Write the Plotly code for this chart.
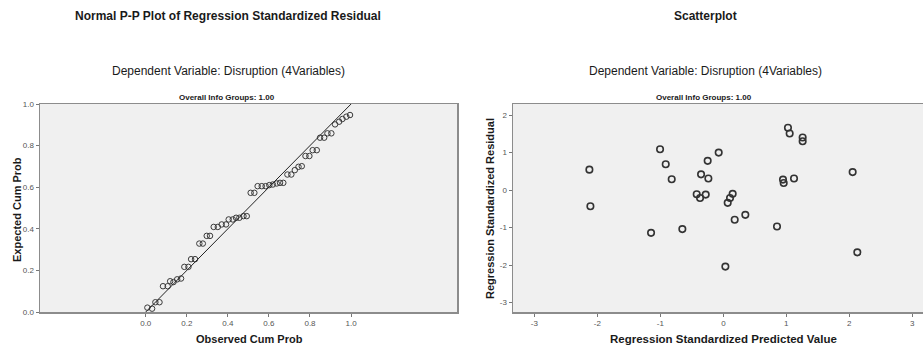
import plotly.graph_objects as go

W, H = 923, 347

# ---- Data: Normal P-P plot ----
pp_observed = [0.008, 0.031, 0.047, 0.067, 0.084, 0.107, 0.119, 0.135, 0.153, 0.172,
               0.188, 0.208, 0.221, 0.240, 0.261, 0.278, 0.297, 0.313, 0.331, 0.351,
               0.370, 0.391, 0.404, 0.424, 0.440, 0.456, 0.476, 0.492, 0.511, 0.529,
               0.545, 0.565, 0.584, 0.602, 0.619, 0.638, 0.654, 0.670, 0.690, 0.709,
               0.726, 0.744, 0.760, 0.778, 0.797, 0.813, 0.833, 0.849, 0.869, 0.885,
               0.904, 0.922, 0.942, 0.958, 0.977, 0.995]
pp_expected = [0.021, 0.016, 0.047, 0.047, 0.124, 0.124, 0.148, 0.144, 0.157, 0.161,
               0.217, 0.217, 0.254, 0.254, 0.329, 0.329, 0.366, 0.366, 0.409, 0.409,
               0.421, 0.421, 0.445, 0.445, 0.453, 0.453, 0.461, 0.461, 0.573, 0.573,
               0.605, 0.605, 0.605, 0.610, 0.613, 0.618, 0.621, 0.621, 0.661, 0.661,
               0.682, 0.698, 0.701, 0.750, 0.750, 0.778, 0.778, 0.838, 0.838, 0.859,
               0.859, 0.902, 0.915, 0.928, 0.939, 0.947]
ref_line = [0.0, 1.0]
pp_ticks = [0.0, 0.2, 0.4, 0.6, 0.8, 1.0]

# ---- Data: Scatterplot ----
pred_value = [-2.127, -2.111, -1.148, -1.005, -0.915, -0.820, -0.651, -0.423, -0.370, -0.354,
              -0.280, -0.249, -0.238, -0.074, 0.032, 0.069, 0.106, 0.148, 0.180, 0.349,
              0.852, 0.947, 0.958, 1.026, 1.053, 1.122, 1.259, 1.259, 2.053, 2.127]
std_resid = [0.545, -0.43, -1.14, 1.09, 0.69, 0.29, -1.04, -0.11, -0.21, 0.42,
             -0.12, 0.78, 0.31, 1.00, -2.04, -0.34, -0.21, -0.10, -0.79, -0.66,
             -0.97, 0.28, 0.19, 1.66, 1.51, 0.31, 1.40, 1.30, 0.48, -1.66]
sc_xticks = [-3, -2, -1, 0, 1, 2, 3]
sc_yticks = [-3, -2, -1, 0, 1, 2]

FONT = "Liberation Sans, Arial, sans-serif"
BG = "#f0f0f0"
FRAME = "#8c8c8c"


def px(x):
    return x / W


def py(y):
    return 1 - y / H


fig = go.Figure()

fig.add_trace(go.Scatter(x=pp_observed, y=pp_expected, mode="markers",
                         marker=dict(symbol="circle-open", size=5.5, color="#3a3a3a",
                                     line=dict(color="#3a3a3a", width=1)),
                         xaxis="x", yaxis="y", showlegend=False))
fig.add_trace(go.Scatter(x=ref_line, y=ref_line, mode="lines",
                         line=dict(color="#222222", width=1),
                         xaxis="x", yaxis="y", showlegend=False))
fig.add_trace(go.Scatter(x=pred_value, y=std_resid, mode="markers",
                         marker=dict(symbol="circle-open", size=6.5, color="#333333",
                                     line=dict(color="#333333", width=1.6)),
                         xaxis="x2", yaxis="y2", showlegend=False))

tickfont = dict(family=FONT, size=8, color="#555555")
axis_common = dict(showgrid=False, zeroline=False, showline=True, linecolor=FRAME,
                   linewidth=1.5, mirror=True, ticks="outside", ticklen=3,
                   tickcolor="#777777", tickwidth=1, tickfont=tickfont,
                   automargin=False)

ydom = [py(312), py(104)]

fig.update_layout(
    width=W, height=H,
    margin=dict(l=0, r=0, t=0, b=0, pad=0),
    paper_bgcolor="white",
    plot_bgcolor=BG,
    hovermode=False,
    xaxis=dict(domain=[px(40), px(457)], range=[-0.515, 1.516], anchor="y",
               tickvals=pp_ticks, ticktext=[f"{v:.1f}" for v in pp_ticks], **axis_common),
    yaxis=dict(domain=ydom, range=[0, 1], anchor="x",
               tickvals=pp_ticks, ticktext=[f"{v:.1f}" for v in pp_ticks], **axis_common),
    xaxis2=dict(domain=[px(513), 1.0], range=[-3.34, 3.17], anchor="y2",
                tickvals=sc_xticks, ticktext=[str(v) for v in sc_xticks], **axis_common),
    yaxis2=dict(domain=ydom, range=[-3.25, 2.295], anchor="x2",
                tickvals=sc_yticks, ticktext=[str(v) for v in sc_yticks], **axis_common),
)


def ann(text, x, y, size, bold=False, angle=0, color="#1a1a1a"):
    t = f"<b>{text}</b>" if bold else text
    fig.add_annotation(text=t, x=px(x), y=py(y), xref="paper", yref="paper",
                       showarrow=False, xanchor="center", yanchor="middle",
                       textangle=angle, borderpad=0,
                       font=dict(family=FONT, size=size, color=color))


# Left panel texts
ann("Normal P-P Plot of Regression Standardized Residual", 228, 16, 12, bold=True)
ann("Dependent Variable: Disruption (4Variables)", 228, 71, 12)
ann("Overall Info Groups: 1.00", 227, 97, 8, bold=True)
ann("Observed Cum Prob", 249, 339, 11, bold=True)
ann("Expected Cum Prob", 17, 210, 11, bold=True, angle=-90)

# Right panel texts
ann("Scatterplot", 705, 16, 12, bold=True)
ann("Dependent Variable: Disruption (4Variables)", 705, 71, 12)
ann("Overall Info Groups: 1.00", 704, 97, 8, bold=True)
ann("Regression Standardized Predicted Value", 723, 339, 11.5, bold=True)
ann("Regression Standardized Residual", 490, 209, 11, bold=True, angle=-90)

fig.write_html("out.html",
               config={"displayModeBar": False, "staticPlot": True},
               post_script="document.body.style.margin='0px';document.body.style.overflow='hidden';")
